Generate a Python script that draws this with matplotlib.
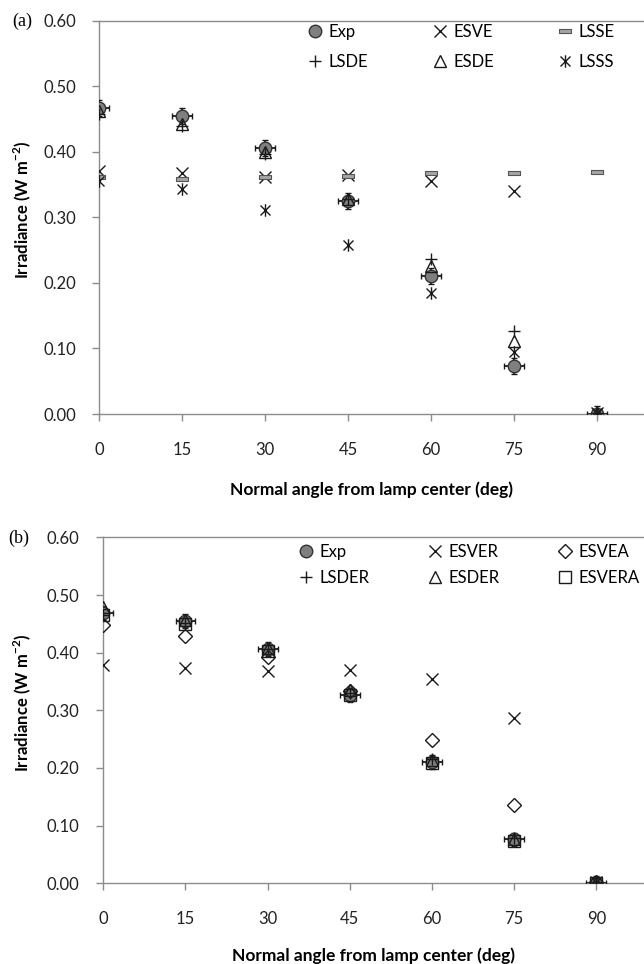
import matplotlib.pyplot as plt
from matplotlib.path import Path
from matplotlib.lines import Line2D
from matplotlib.legend import Legend
from matplotlib.ticker import FormatStrFormatter

plt.rcParams['font.family'] = ['Lato', 'DejaVu Sans']

angles = [0, 15, 30, 45, 60, 75, 90]
x_ticks = [0, 15, 30, 45, 60, 75, 90]
y_ticks = [0.0, 0.1, 0.2, 0.3, 0.4, 0.5, 0.6]

# panel (a)
exp_a = [0.467, 0.455, 0.406, 0.325, 0.211, 0.073, 0.0]
esve = [0.371, 0.368, 0.362, 0.364, 0.355, 0.340, 0.002]
lsse = [0.362, 0.358, 0.362, 0.363, 0.367, 0.368, 0.369]
lsde = [0.458, 0.440, 0.397, 0.328, 0.237, 0.126, 0.002]
esde = [0.462, 0.442, 0.400, 0.328, 0.226, 0.111, 0.002]
lsss = [0.356, 0.344, 0.312, 0.258, 0.184, 0.094, 0.002]

# panel (b)
exp_b = [0.469, 0.455, 0.407, 0.326, 0.211, 0.076, 0.0]
esver = [0.378, 0.374, 0.368, 0.370, 0.354, 0.286, 0.002]
esvea = [0.448, 0.429, 0.393, 0.333, 0.248, 0.135, 0.002]
lsder = [0.466, 0.452, 0.406, 0.330, 0.215, 0.078, 0.002]
esder = [0.480, 0.456, 0.408, 0.335, 0.213, 0.077, 0.002]
esvera = [0.465, 0.450, 0.403, 0.326, 0.208, 0.074, 0.001]

x_err = 1.8
y_err = 0.012

GRAY = '#7f7f7f'
SPINE = '#8c8c8c'
INK = '#1a1a1a'

dash = Path([(-1, -0.3), (1, -0.3), (1, 0.3), (-1, 0.3), (-1, -0.3)],
            [Path.MOVETO, Path.LINETO, Path.LINETO, Path.LINETO, Path.CLOSEPOLY])
# x with a vertical bar through it
star = Path([(-0.8, -0.8), (0.8, 0.8), (-0.8, 0.8), (0.8, -0.8), (0, -1), (0, 1)],
            [Path.MOVETO, Path.LINETO, Path.MOVETO, Path.LINETO, Path.MOVETO, Path.LINETO])

fig = plt.figure(figsize=(6.44, 9.64), dpi=100)
ax1 = fig.add_axes([0.1545, 0.5705, 0.8455, 0.408])
ax2 = fig.add_axes([0.1604, 0.0838, 0.8396, 0.3587])


def style(ax, xmax, lpad):
    ax.set_xlim(0, xmax)
    ax.set_ylim(0, 0.6)
    ax.set_xticks(x_ticks)
    ax.set_yticks(y_ticks)
    ax.yaxis.set_major_formatter(FormatStrFormatter('%.2f'))
    for s in ['left', 'bottom', 'top']:
        ax.spines[s].set_color(SPINE)
        ax.spines[s].set_linewidth(1.0)
    ax.spines['right'].set_visible(False)
    ax.tick_params(axis='both', direction='out', length=5, width=1.0,
                   color=SPINE, labelsize=12, labelcolor='#222222')
    ax.tick_params(axis='x', pad=15)
    ax.tick_params(axis='y', pad=12)
    ax.set_xlabel('Normal angle from lamp center (deg)', fontsize=12.5,
                  fontweight='bold', labelpad=lpad)


def exp_points(ax, y):
    ax.errorbar(angles, y, xerr=x_err, yerr=y_err, fmt='o', ms=9,
                mfc=GRAY, mec='#333333', mew=1.0, ecolor=INK, elinewidth=1.3,
                capsize=2.5, capthick=1.3, zorder=3)


exp_handle = Line2D([], [], linestyle='none', marker='o', ms=9, mfc=GRAY,
                    mec='#333333', mew=1.0)

open_kw = dict(linestyle='none', ms=9, mfc='none', mec=INK, mew=1.0, zorder=4)


def legend_cols(ax, cols, xs, top, spacing):
    for (hs, ls), x in zip(cols, xs):
        leg = Legend(ax, hs, ls, loc='upper left', bbox_to_anchor=(x / 644, top),
                     bbox_transform=fig.transFigure, frameon=False,
                     fontsize=12, handlelength=1.0, handletextpad=0.3,
                     labelspacing=spacing, borderpad=0, borderaxespad=0)
        ax.add_artist(leg)


# ---- (a)
exp_points(ax1, exp_a)
l_esve, = ax1.plot(angles, esve, marker='x', **open_kw)
l_lsse, = ax1.plot(angles, lsse, marker=dash, linestyle='none', ms=9,
                   mfc='#a6a6a6', mec='#555555', mew=0.8, zorder=4)
l_lsde, = ax1.plot(angles, lsde, marker='+', **open_kw)
l_esde, = ax1.plot(angles, esde, marker='^', **open_kw)
l_lsss, = ax1.plot(angles, lsss, marker=star, **open_kw)
style(ax1, 98.5, 17)

legend_cols(ax1, [([exp_handle, l_lsde], ['Exp', 'LSDE']),
                  ([l_esve, l_esde], ['ESVE', 'ESDE']),
                  ([l_lsse, l_lsss], ['LSSE', 'LSSS'])],
            [307, 432, 557], 0.9755, 0.85)

# ---- (b)
exp_points(ax2, exp_b)
l_esver, = ax2.plot(angles, esver, marker='x', **open_kw)
l_esvea, = ax2.plot(angles, esvea, marker='D', **dict(open_kw, ms=7.5))
l_lsder, = ax2.plot(angles, lsder, marker='+', **open_kw)
l_esder, = ax2.plot(angles, esder, marker='^', **open_kw)
l_esvera, = ax2.plot(angles, esvera, marker='s', **open_kw)
style(ax2, 98.7, 15)

legend_cols(ax2, [([exp_handle, l_lsder], ['Exp', 'LSDER']),
                  ([l_esver, l_esder], ['ESVER', 'ESDER']),
                  ([l_esvea, l_esvera], ['ESVEA', 'ESVERA'])],
            [298, 427, 557], 0.4355, 0.6)

ylab = 'Irradiance (W m$^{\\mathregular{-2}}$)'
fig.text(22 / 644, 1 - 210 / 964, ylab, rotation=90,
         ha='center', va='center', fontsize=12, fontweight='bold')
fig.text(22 / 644, 1 - 703 / 964, ylab, rotation=90,
         ha='center', va='center', fontsize=12, fontweight='bold')
fig.text(12 / 644, 1 - 21 / 964, '(a)', family='Liberation Serif',
         fontsize=13, ha='left', va='center')
fig.text(8 / 644, 1 - 538 / 964, '(b)', family='Liberation Serif',
         fontsize=13, ha='left', va='center')

fig.savefig('out.png', dpi=100, facecolor='white')
